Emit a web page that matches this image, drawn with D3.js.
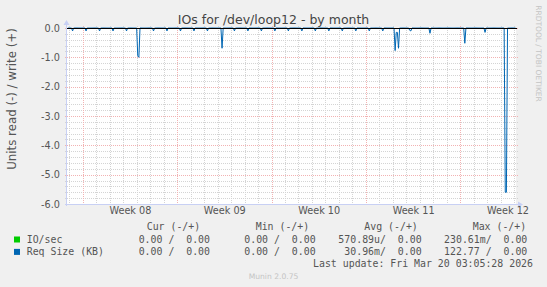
<!DOCTYPE html>
<html>
<head>
<meta charset="utf-8">
<script src="https://cdn.jsdelivr.net/npm/d3@7"></script>
<style>
    body { margin: 0; background: #f0f0f0; }
    svg { display: block; font-family: "DejaVu Sans", sans-serif; }
    .mono { font-family: "DejaVu Sans Mono", monospace; }
</style>
</head>
<body>
<svg id="chart" width="547" height="287"></svg>
<script>
// Munin diskstats IOs graph, month view (2 hour samples)

const startTime = new Date('2026-02-14T20:04:00Z');
const lastUpdate = new Date('2026-03-20T03:05:28Z');

const yTicks = [0, -1, -2, -3, -4, -5, -6];
const weekLabels = ['Week 08', 'Week 09', 'Week 10', 'Week 11', 'Week 12'];
const weekStarts = ['2026-02-16', '2026-02-23', '2026-03-02', '2026-03-09', '2026-03-16'];

// Non-zero read samples of Req Size (KB), plotted downwards
const sampleTimes = [
    '2026-02-15T06:00Z', '2026-02-16T06:00Z', '2026-02-17T06:00Z', '2026-02-18T06:00Z',
    '2026-02-19T06:00Z', '2026-02-20T02:00Z', '2026-02-20T04:00Z', '2026-02-21T06:00Z',
    '2026-02-22T06:00Z', '2026-02-23T06:00Z', '2026-02-24T06:00Z', '2026-02-25T06:00Z',
    '2026-02-26T08:00Z', '2026-02-27T06:00Z', '2026-02-28T06:00Z', '2026-03-01T06:00Z',
    '2026-03-02T06:00Z', '2026-03-03T06:00Z', '2026-03-04T06:00Z', '2026-03-05T06:00Z',
    '2026-03-06T06:00Z', '2026-03-07T06:00Z', '2026-03-08T06:00Z', '2026-03-09T06:00Z',
    '2026-03-10T06:00Z', '2026-03-11T04:00Z', '2026-03-11T06:00Z', '2026-03-11T08:00Z',
    '2026-03-11T10:00Z', '2026-03-12T06:00Z', '2026-03-12T08:00Z', '2026-03-13T18:00Z',
    '2026-03-16T08:00Z', '2026-03-17T20:00Z', '2026-03-19T08:00Z', '2026-03-19T10:00Z'
];
const reqSizeRead = [
    0.1, 0.1, 0.1, 0.1,
    0.1, 0.95, 1.0, 0.1,
    0.1, 0.1, 0.1, 0.1,
    0.69, 0.1, 0.1, 0.1,
    0.1, 0.1, 0.1, 0.1,
    0.1, 0.1, 0.1, 0.1,
    0.1, 0.77, 0.15, 0.15,
    0.69, 0.08, 0.1, 0.18,
    0.52, 0.15, 5.6, 5.6
];

// Legend table
const legendHeaders = ['Cur (-/+)', 'Min (-/+)', 'Avg (-/+)', 'Max (-/+)'];
const seriesNames = ['IO/sec', 'Req Size (KB)'];
const seriesColors = ['#00cc00', '#0066b3'];
const ioStats = [[0, 0], [0, 0], [570.89e-6, 0], [230.61e-3, 0]];
const reqStats = [[0, 0], [0, 0], [30.96e-3, 0], [122.77, 0]];

const svg = d3.select('#chart');
const plotLeft = 67, plotRight = 516, plotTop = 28, plotBottom = 204;

const x = d3.scaleUtc().domain([startTime, lastUpdate]).range([plotLeft, plotRight]);
const y = d3.scaleLinear().domain([-6, 0]).range([plotBottom, plotTop]);

// Canvas
svg.append('rect')
    .attr('x', plotLeft).attr('y', plotTop)
    .attr('width', plotRight - plotLeft).attr('height', plotBottom - plotTop)
    .attr('fill', '#fff');

const grid = svg.append('g').attr('stroke-width', 1).attr('stroke-dasharray', '1,1');
const px = v => Math.round(v) + 0.5;

// Minor grid
grid.append('g').selectAll('line')
    .data(y.ticks(30).filter(d => Math.abs(d - Math.round(d)) > 1e-6))
    .join('line')
    .attr('x1', plotLeft - 2).attr('x2', plotRight + 2)
    .attr('y1', d => px(y(d))).attr('y2', d => px(y(d)))
    .attr('stroke', '#d4d4d4');

grid.append('g').selectAll('line')
    .data(d3.utcDay.range(startTime, lastUpdate))
    .join('line')
    .attr('x1', d => px(x(d))).attr('x2', d => px(x(d)))
    .attr('y1', plotTop - 2).attr('y2', plotBottom + 2)
    .attr('stroke', '#d4d4d4');

// Major grid
grid.append('g').selectAll('line')
    .data(yTicks)
    .join('line')
    .attr('x1', plotLeft - 2).attr('x2', plotRight + 2)
    .attr('y1', d => px(y(d))).attr('y2', d => px(y(d)))
    .attr('stroke', '#f2b2b2');

grid.append('g').selectAll('line')
    .data(weekStarts.map(d => new Date(d + 'T00:00:00Z')))
    .join('line')
    .attr('x1', d => px(x(d))).attr('x2', d => px(x(d)))
    .attr('y1', plotTop - 2).attr('y2', plotBottom + 2)
    .attr('stroke', '#f2b2b2');

// Build 2 hour series (samples not listed are zero)
const readMap = new Map(sampleTimes.map((t, i) => [new Date(t).getTime(), reqSizeRead[i]]));
const series = d3.utcHour.every(2).range(startTime, lastUpdate).map(t => ({
    t: t,
    v: -(readMap.get(t.getTime()) || 0)
}));

svg.append('path')
    .datum(series)
    .attr('fill', 'none')
    .attr('stroke', seriesColors[1])
    .attr('stroke-width', 1)
    .attr('d', d3.line().x(d => x(d.t)).y(d => y(d.v)));

// Zero line
svg.append('line')
    .attr('x1', plotLeft).attr('x2', plotRight + 1)
    .attr('y1', px(y(0))).attr('y2', px(y(0)))
    .attr('stroke', '#000');

// Axis lines with arrows
const axisColor = '#c8d0f4';
svg.append('line')
    .attr('x1', plotLeft - 0.5).attr('x2', plotLeft - 0.5)
    .attr('y1', plotBottom + 2).attr('y2', plotTop - 5)
    .attr('stroke', axisColor);
svg.append('path')
    .attr('d', `M${plotLeft - 3.5},${plotTop - 3} L${plotLeft - 0.5},${plotTop - 8} L${plotLeft + 2.5},${plotTop - 3} Z`)
    .attr('fill', axisColor);
svg.append('line')
    .attr('x1', plotLeft - 2).attr('x2', plotRight + 4)
    .attr('y1', plotBottom + 0.5).attr('y2', plotBottom + 0.5)
    .attr('stroke', axisColor);
svg.append('path')
    .attr('d', `M${plotRight + 2},${plotBottom - 2.5} L${plotRight + 7},${plotBottom + 0.5} L${plotRight + 2},${plotBottom + 3.5} Z`)
    .attr('fill', axisColor);

// Y tick labels
const yAxis = svg.append('g')
    .attr('transform', `translate(${plotLeft - 7},0)`)
    .call(d3.axisLeft(y).tickValues(yTicks).tickSize(0).tickPadding(0)
        .tickFormat(d => d.toFixed(1)));
yAxis.select('.domain').remove();
yAxis.selectAll('text')
    .attr('fill', '#555')
    .attr('font-size', '9.7px')
    .attr('font-family', '"DejaVu Sans", sans-serif');

// Week labels centred mid-week
const xAxis = svg.append('g')
    .attr('transform', `translate(0,${plotBottom + 3})`)
    .call(d3.axisBottom(x)
        .tickValues(weekStarts.map(d => d3.utcHour.offset(new Date(d + 'T00:00:00Z'), 84)))
        .tickSize(0).tickPadding(0)
        .tickFormat((d, i) => weekLabels[i]));
xAxis.select('.domain').remove();
xAxis.selectAll('text')
    .attr('fill', '#555')
    .attr('dy', '0.72em')
    .attr('font-size', '9.7px')
    .attr('font-family', '"DejaVu Sans", sans-serif');

// Title
svg.append('text')
    .attr('x', 273.5).attr('y', 23.5)
    .attr('text-anchor', 'middle')
    .attr('font-size', '12.5px')
    .attr('fill', '#444')
    .text('IOs for /dev/loop12 - by month');

// Vertical label
svg.append('text')
    .attr('transform', 'translate(16,99) rotate(-90)')
    .attr('text-anchor', 'middle')
    .attr('font-size', '11.8px')
    .attr('fill', '#555')
    .text('Units read (-) / write (+)');

// Watermark
svg.append('text')
    .attr('transform', 'translate(535.5,53.5) rotate(90)')
    .attr('text-anchor', 'middle')
    .attr('font-size', '7.5px')
    .attr('fill', '#c4c4c4')
    .text('RRDTOOL / TOBI OETIKER');

// Legend
const nb = s => s.replace(/ /g, '\u00a0');
const fmt = v => {
    if (v === 0) return '  0.00 ';
    const e = Math.max(-2, Math.min(1, Math.floor(Math.log10(Math.abs(v)) / 3)));
    const suffix = { '-2': 'u', '-1': 'm', '0': ' ', '1': 'k' }[e];
    return (v / Math.pow(1000, e)).toFixed(2).padStart(6) + suffix;
};

const legend = svg.append('g').attr('class', 'mono').attr('font-size', '9.9px').attr('fill', '#555');
const headerX = [146.7, 255.7, 364.3, 472.7];
legend.append('g').selectAll('text')
    .data(legendHeaders)
    .join('text')
    .attr('x', (d, i) => headerX[i])
    .attr('y', 230)
    .text(d => nb(d));

const cellEnds = [210, 315.6, 421.6, 527.3];
[ioStats, reqStats].forEach((stats, r) => {
    const rowY = 242.5 + r * 12.4;
    const row = legend.append('g');
    row.append('rect')
        .attr('x', 14).attr('y', rowY - 6)
        .attr('width', 6).attr('height', 6)
        .attr('fill', seriesColors[r]);
    row.append('text')
        .attr('x', 26.7).attr('y', rowY)
        .text(nb(seriesNames[r]));
    row.append('g').selectAll('text')
        .data(stats)
        .join('text')
        .attr('x', (d, i) => cellEnds[i])
        .attr('y', rowY)
        .attr('text-anchor', 'end')
        .text(d => nb((fmt(d[0]) + '/' + fmt(d[1])).trim()));
});

legend.append('text')
    .attr('x', 533).attr('y', 267)
    .attr('text-anchor', 'end')
    .text('Last update: Fri Mar 20 03:05:28 2026');

svg.append('text')
    .attr('x', 273.5).attr('y', 279)
    .attr('text-anchor', 'middle')
    .attr('font-size', '7.6px')
    .attr('fill', '#c4c4c4')
    .text('Munin 2.0.75');
</script>
</body>
</html>
